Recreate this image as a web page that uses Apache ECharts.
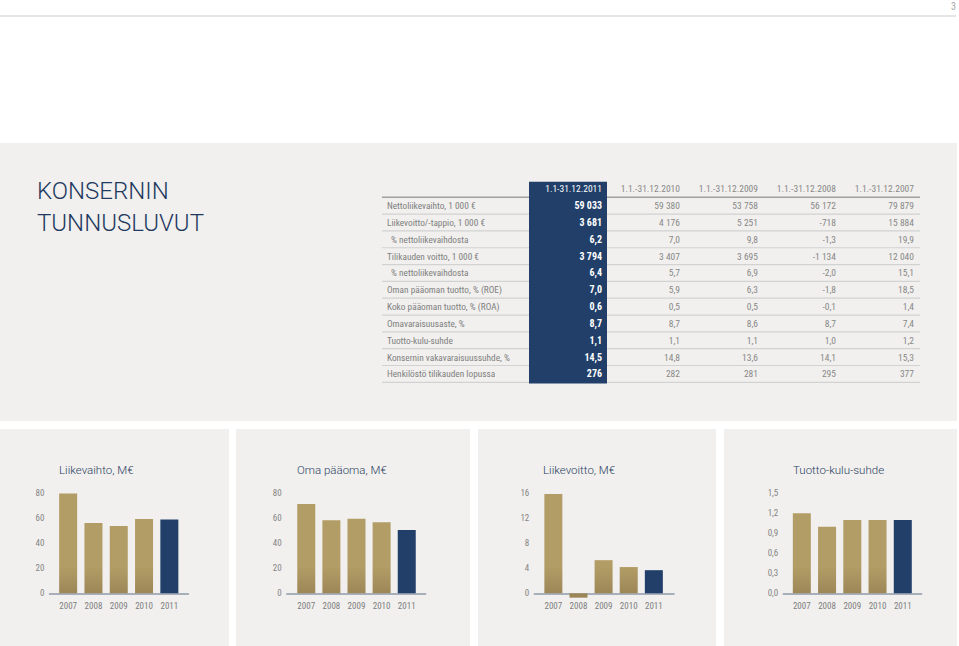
<!DOCTYPE html>
<html>
<head>
<meta charset="utf-8">
<script src="https://cdn.jsdelivr.net/npm/echarts@6/dist/echarts.min.js"></script>
<style>
html,body{margin:0;padding:0;background:#fff;}
#chart{width:959px;height:646px;}
</style>
</head>
<body>
<div id="chart"></div>
<script>
// ---------- DATA ----------
const periods = ['1.1-31.12.2011', '1.1.-31.12.2010', '1.1.-31.12.2009', '1.1.-31.12.2008', '1.1.-31.12.2007'];
const rowLabels = [
  'Nettoliikevaihto, 1 000 €',
  'Liikevoitto/-tappio, 1 000 €',
  '% nettoliikevaihdosta',
  'Tilikauden voitto, 1 000 €',
  '% nettoliikevaihdosta',
  'Oman pääoman tuotto, % (ROE)',
  'Koko pääoman tuotto, % (ROA)',
  'Omavaraisuusaste, %',
  'Tuotto-kulu-suhde',
  'Konsernin vakavaraisuussuhde, %',
  'Henkilöstö tilikauden lopussa'
];
const rowDecimals = [0, 0, 1, 0, 1, 1, 1, 1, 1, 1, 0];
const v2011 = [59033, 3681, 6.2, 3794, 6.4, 7.0, 0.6, 8.7, 1.1, 14.5, 276];
const v2010 = [59380, 4176, 7.0, 3407, 5.7, 5.9, 0.5, 8.7, 1.1, 14.8, 282];
const v2009 = [53758, 5251, 9.8, 3695, 6.9, 6.3, 0.5, 8.6, 1.1, 13.6, 281];
const v2008 = [56172, -718, -1.3, -1134, -2.0, -1.8, -0.1, 8.7, 1.0, 14.1, 295];
const v2007 = [79879, 15884, 19.9, 12040, 15.1, 18.5, 1.4, 7.4, 1.2, 15.3, 377];
const tableColumns = [v2011, v2010, v2009, v2008, v2007];

const years = ['2007', '2008', '2009', '2010', '2011'];
const liikevaihto = [79.9, 56.2, 53.8, 59.4, 59.0];
const omaPaaoma = [71.4, 58.4, 59.7, 56.8, 50.6];
const liikevoitto = [15.9, -0.7, 5.3, 4.2, 3.7];
const tuottoKulu = [1.2, 1.0, 1.1, 1.1, 1.1];

const chartTitles = ['Liikevaihto, M€', 'Oma pääoma, M€', 'Liikevoitto, M€', 'Tuotto-kulu-suhde'];
const chartSeries = [liikevaihto, omaPaaoma, liikevoitto, tuottoKulu];
const chartMax = [80, 80, 16, 1.5];
const chartInterval = [20, 20, 4, 0.3];
const chartDecimals = [0, 0, 0, 1];

// ---------- STYLE / LAYOUT ----------
const FONT = '"Liberation Sans Narrow", "Roboto Condensed", "Liberation Sans", sans-serif';
const TITLE_FONT = 'Roboto, "Liberation Sans", sans-serif';
const NAVY = '#213f69';
const GOLD = '#b39d66';
const GOLD_DARK = '#9c8657';
const AXIS = '#8f99aa';
const PANEL = '#f1f0ee';
const LABEL_COL_W = 147;

const layouts = [
  {axisL: 49.5, axisR: 188.5, barL: 55.5, barR: 182, titleL: 59},
  {axisL: 286.7, axisR: 425.7, barL: 293.7, barR: 419.3, titleL: 297},
  {axisL: 534.3, axisR: 674, barL: 540.8, barR: 666.4, titleL: 543},
  {axisL: 783.3, axisR: 921.7, barL: 789.2, barR: 915.4, titleL: 793}
];
const CH_TOP = 493.3, CH_H = 100;

function fmt(v, d) {
  const s = Math.abs(v).toFixed(d);
  let parts = s.split('.');
  let i = parts[0].replace(/\B(?=(\d{3})+(?!\d))/g, ' ');
  return (v < 0 ? '-' : '') + i + (parts[1] ? ',' + parts[1] : '');
}

// table cells
const cellData = [];
const cellText = [];
const cellKind = [];
periods.forEach((p, c) => {
  cellData.push([c, 0]); cellText.push(p); cellKind.push(c === 0 ? 'hnavy' : 'h');
  tableColumns[c].forEach((v, r) => {
    cellData.push([c, r + 1]);
    cellText.push(fmt(v, rowDecimals[r]));
    cellKind.push(c === 0 ? 'navy' : 'n');
  });
});
const lineData = [];
for (let r = 0; r <= rowLabels.length; r++) lineData.push([0, r]);

const grids = [{left: 529, top: 180.5, width: 390, height: 201.8, outerBoundsMode: 'none'}];
const xAxes = [{gridIndex: 0, type: 'category', data: periods, show: false}];
const yAxes = [{
  gridIndex: 0, type: 'category', inverse: true, data: [''].concat(rowLabels),
  axisLine: {show: false}, axisTick: {show: false}, splitLine: {show: false},
  axisLabel: {
    interval: 0, align: 'left', margin: 142, color: '#808080', fontSize: 9.3, fontFamily: FONT,
    formatter: v => v.charAt(0) === '%' ? '{i|' + v + '}' : v,
    rich: {i: {padding: [0, 0, 0, 4], color: '#808080', fontSize: 9.3, fontFamily: FONT}}
  }
}];
const series = [
  {
    type: 'custom', xAxisIndex: 0, yAxisIndex: 0, z: 1, silent: true, data: lineData,
    renderItem: (params, api) => {
      const r = api.value(1);
      const p0 = api.coord([0, r]);
      const p1 = api.coord([0, r + 1]);
      const h = Math.abs(p1[1] - p0[1]);
      const y = p0[1] + h / 2;
      const cs = params.coordSys;
      return {type: 'line', shape: {x1: cs.x - LABEL_COL_W, y1: y, x2: cs.x + cs.width + 1, y2: y},
        style: {stroke: r === 0 ? '#a0a0a0' : '#d2d2d2', lineWidth: r === 0 ? 1.4 : 1.2}};
    }
  },
  {
    type: 'custom', xAxisIndex: 0, yAxisIndex: 0, z: 3, silent: true, data: [[0, 0]],
    renderItem: (params, api) => {
      const a = api.coord([0, 0]);
      const b = api.coord([1, 0]);
      const w = Math.abs(b[0] - a[0]);
      const cs = params.coordSys;
      return {type: 'rect', shape: {x: a[0] - w / 2, y: cs.y + 1.2, width: w, height: cs.height},
        style: {fill: NAVY}};
    }
  },
  {
    type: 'custom', xAxisIndex: 0, yAxisIndex: 0, z: 5, silent: true, data: cellData,
    renderItem: (params, api) => {
      const c = api.value(0), r = api.value(1);
      const a = api.coord([c, r]);
      const b = api.coord([c + 1, r]);
      const w = Math.abs(b[0] - a[0]);
      const kind = cellKind[params.dataIndex];
      const navy = kind === 'navy' || kind === 'hnavy';
      return {type: 'text', style: {
        text: cellText[params.dataIndex], x: a[0] + w / 2 - 5, y: a[1],
        align: 'right', verticalAlign: 'middle',
        fill: navy ? '#ffffff' : '#888888',
        fontSize: kind === 'navy' ? 10 : 9.5,
        fontWeight: kind === 'navy' ? 'bold' : 'normal',
        fontFamily: FONT
      }};
    }
  }
];

const titles = [{
  text: 'KONSERNIN\nTUNNUSLUVUT', left: 37, top: 175, padding: 0,
  textStyle: {color: '#22395f', fontSize: 24, fontWeight: 300, fontFamily: TITLE_FONT, lineHeight: 32}
}];

layouts.forEach((L, k) => {
  const gA = grids.length;
  grids.push({left: L.axisL, top: CH_TOP, width: L.axisR - L.axisL, height: CH_H, outerBoundsMode: 'none'});
  const gB = grids.length;
  grids.push({left: L.barL, top: CH_TOP, width: L.barR - L.barL, height: CH_H, outerBoundsMode: 'none'});
  xAxes.push({gridIndex: gA, type: 'value', min: 0, max: 1,
    axisLine: {show: true, onZero: false, lineStyle: {color: AXIS, width: 1.5}},
    axisTick: {show: false}, axisLabel: {show: false}, splitLine: {show: false}});
  yAxes.push({gridIndex: gA, type: 'value', min: 0, max: chartMax[k], interval: chartInterval[k],
    axisLine: {show: false}, axisTick: {show: false}, splitLine: {show: false},
    axisLabel: {margin: 5, color: '#858585', fontSize: 9, fontFamily: FONT,
      formatter: v => v.toFixed(chartDecimals[k]).replace('.', ',')}});
  xAxes.push({gridIndex: gB, type: 'category', data: years,
    axisLine: {show: false}, axisTick: {show: false}, splitLine: {show: false},
    axisLabel: {interval: 0, margin: 8, color: '#7e7e7e', fontSize: 9, fontFamily: FONT}});
  yAxes.push({gridIndex: gB, type: 'value', min: 0, max: chartMax[k], interval: chartInterval[k], show: false,
    splitLine: {show: false}});
  const goldGrad = new echarts.graphic.LinearGradient(0, 566, 0, 594, [
    {offset: 0, color: GOLD}, {offset: 1, color: GOLD_DARK}], true);
  series.push({
    type: 'bar', xAxisIndex: gB, yAxisIndex: gB, barWidth: 18, clip: false, silent: true, z: 4,
    itemStyle: {color: goldGrad},
    data: chartSeries[k].map((v, i) => i === years.length - 1 ? {value: v, itemStyle: {color: NAVY}} : v)
  });
  titles.push({text: chartTitles[k], left: L.titleL, top: 464, padding: 0,
    textStyle: {color: '#2b3f63', fontSize: 11.5, fontWeight: 300, fontFamily: TITLE_FONT}});
});

const option = {
  backgroundColor: '#ffffff',
  animation: false,
  textStyle: {fontFamily: FONT},
  graphic: [
    {type: 'line', z: -1, silent: true, shape: {x1: 0, y1: 16, x2: 956, y2: 16}, style: {stroke: '#dcdcdc', lineWidth: 1.5}},
    {type: 'text', z: -1, silent: true, style: {text: '3', x: 956, y: 6, align: 'right', verticalAlign: 'middle', fill: '#a8a8a8', fontSize: 10, fontFamily: FONT}},
    {type: 'rect', z: -1, silent: true, shape: {x: 0, y: 143, width: 957, height: 278}, style: {fill: PANEL}},
    {type: 'rect', z: -1, silent: true, shape: {x: 0, y: 429, width: 229, height: 217}, style: {fill: PANEL}},
    {type: 'rect', z: -1, silent: true, shape: {x: 236, y: 429, width: 234, height: 217}, style: {fill: PANEL}},
    {type: 'rect', z: -1, silent: true, shape: {x: 478, y: 429, width: 238, height: 217}, style: {fill: PANEL}},
    {type: 'rect', z: -1, silent: true, shape: {x: 724, y: 429, width: 233, height: 217}, style: {fill: PANEL}}
  ],
  title: titles,
  grid: grids,
  xAxis: xAxes,
  yAxis: yAxes,
  series: series
};

const chart = echarts.init(document.getElementById('chart'), null, {renderer: 'svg', width: 959, height: 646});
chart.setOption(option);
</script>
</body>
</html>
